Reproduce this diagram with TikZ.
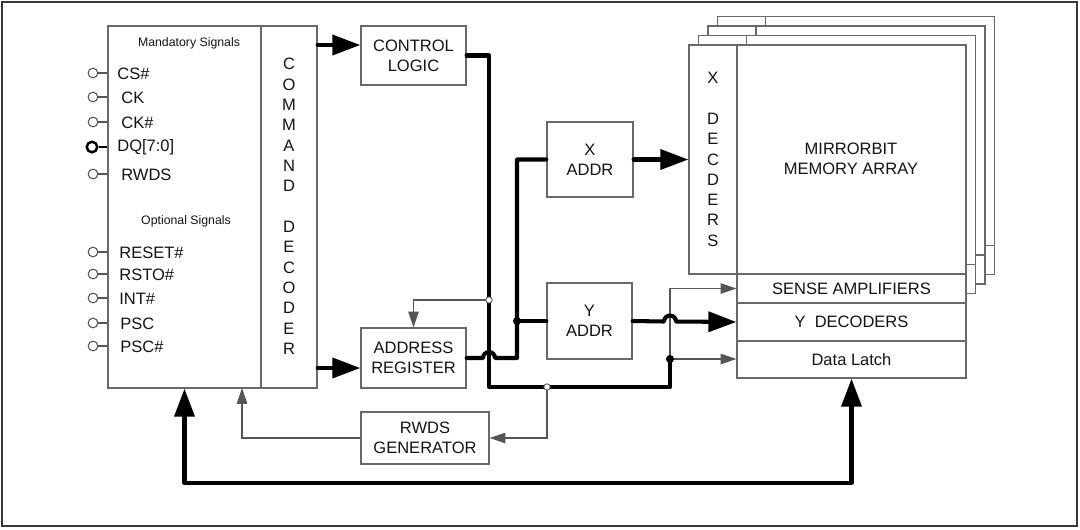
\documentclass[tikz,border=0pt]{standalone}
\usepackage{fontspec}
\setmainfont{Liberation Sans}
\usetikzlibrary{arrows.meta,fit,calc}
\definecolor{boxgray}{RGB}{105,105,105}
\definecolor{linegray}{RGB}{85,85,85}
\definecolor{framegray}{RGB}{55,55,55}
\definecolor{txt}{RGB}{20,20,20}
\begin{document}
\begin{tikzpicture}[x=0.02cm,y=-0.02cm,
  txtfont/.style={font=\fontsize{9.4}{11.5}\selectfont, text=txt},
  box/.style={draw=boxgray, line width=0.75pt, fill=white, inner sep=0pt},
  boxtxt/.style={align=center, inner sep=0pt, txtfont},
  bus/.style={line width=2.3pt, line cap=round, line join=round, draw=black},
  busarrow/.style={bus, -{Triangle[length=15.9pt,width=11.3pt]}},
  sig/.style={draw=linegray, line width=0.6pt},
  sigarrow/.style={sig, -{Triangle[length=9pt,width=6pt]}},
  pinc/.style={circle, draw=linegray, line width=0.6pt, fill=white, inner sep=0pt, minimum size=5.5pt},
  pinlbl/.style={anchor=west, inner sep=0pt, txtfont},
  odot/.style={circle, draw=linegray, line width=0.5pt, fill=white, inner sep=0pt, minimum size=3.6pt},
  fdot/.style={circle, fill=black, inner sep=0pt, minimum size=4.6pt},
]
\useasboundingbox (0,0) rectangle (1080,529);
\draw[framegray, line width=1.2pt] (2,2) rectangle (1077,526);

% ---------- signal block and command decoder
\node[box, fit={(108,26) (261,388)}] (sigbox) {};
\node[box, fit={(261,26) (317,388)}] (cmd) {};
\node[align=center, inner sep=0pt, font=\fontsize{9.4}{11.57}\selectfont, text=txt] (cmdtxt) at (289,206.5)
  {C\\O\\M\\M\\A\\N\\D\\[11.57pt]D\\E\\C\\O\\D\\E\\R};
\node[font=\fontsize{7}{8}\selectfont, text=txt, inner sep=0pt] (mand) at (189,43) {Mandatory Signals};
\node[font=\fontsize{7}{8}\selectfont, text=txt, inner sep=0pt] (opt) at (186,221) {Optional Signals};

% pins
\foreach \nm/\y/\lx/\lbl in {cs/73/117/CS\#, ck/97/121/CK, ckn/122/121/CK\#, rwdsp/174/121/RWDS,
   rst/252/119/RESET\#, rsto/274/119/RSTO\#, int/298/119/INT\#, psc/323/120/PSC, pscn/346/120/PSC\#}{
  \node[pinc] (p\nm) at (93,\y) {};
  \draw[sig] (p\nm.east) -- (p\nm.east -| sigbox.west);
  \node[pinlbl] (l\nm) at (\lx,\y+0.5) {\lbl};
}
\node[circle, draw=black, line width=1.4pt, fill=white, inner sep=0pt, minimum size=6pt] (pdq) at (92,147) {};
\draw[black, line width=1.4pt] (pdq.east) -- (pdq.east -| sigbox.west);
\node[pinlbl] (ldq) at (117,147) {DQ[7:0]};

% ---------- middle boxes
\node[box, fit={(361,26) (466,85)}] (ctrl) {};
\node[boxtxt] (ctrlt) at (ctrl.center) {CONTROL\\LOGIC};
\node[box, fit={(361,328) (466,388)}] (addr) {};
\node[boxtxt] (addrt) at (addr.center) {ADDRESS\\REGISTER};
\node[box, fit={(547,122) (633,197)}] (xaddr) {};
\node[boxtxt] (xaddrt) at (xaddr.center) {X\\ADDR};
\node[box, fit={(547,283) (632,359)}] (yaddr) {};
\node[boxtxt] (yaddrt) at (yaddr.center) {Y\\ADDR};
\node[box, fit={(361,412) (489,464)}] (rwds) {};
\node[boxtxt] (rwdst) at (rwds.center) {RWDS\\GENERATOR};

% ---------- memory array stack (back pages)
\foreach \k in {3,2,1}{
  \begin{scope}[shift={(9.5*\k,-9.5*\k)}]
    \draw[boxgray, line width=0.75pt, fill=white] (689,45) rectangle (966,274);
    \draw[boxgray, line width=0.75pt] (737,45) -- (737,274);
    \draw[boxgray, line width=0.75pt, fill=white] (737,274) rectangle (966,303);
  \end{scope}
}
% front page
\node[box, fit={(689,45) (737,274)}] (xdec) {};
\node[align=center, inner sep=0pt, font=\fontsize{9.4}{11.55}\selectfont, text=txt] (xdectxt) at (713,159.5)
  {X\\[11.55pt]D\\E\\C\\D\\E\\R\\S};
\node[box, fit={(737,45) (966,274)}] (array) {};
\node[boxtxt] (arrayt) at (851,159) {MIRRORBIT\\MEMORY ARRAY};
\node[box, fit={(737,274) (966,303)}] (sense) {};
\node[boxtxt] (senset) at (sense.center) {SENSE AMPLIFIERS};
\node[box, fit={(737,303) (966,341)}] (ydec) {};
\node[boxtxt] (ydect) at (ydec.center) {Y\ \ DECODERS};
\node[box, fit={(737,341) (966,378)}] (latch) {};
\node[boxtxt] (latcht) at (latch.center) {Data Latch};

% ---------- junctions
\coordinate (j1) at (489,300);
\coordinate (j2) at (547,387);
\coordinate (j3) at (670,359);
\coordinate (j4) at (517,321);

% ---------- connectors
\draw[busarrow] (cmd.east |- 0,45) -- (ctrl.west |- 0,45);
\draw[busarrow] (cmd.east |- 0,368) -- (addr.west |- 0,368);

\draw[bus] (ctrl.east) -| (j1) -- (489,387) -- (j2) -- (670,387) -- (j3);
\draw[sigarrow] (j1) -| (addr.north);
\draw[sigarrow] (j3) |- (sense.west);
\draw[sigarrow] (j3) -- (j3 -| latch.west);
\draw[sig] (670,288) -- (j3);
\draw[sigarrow] (j2) |- (rwds.east);
\coordinate (rwin) at (242,388);
\draw[sigarrow] (rwds.west) -| (rwin);

\draw[bus] (addr.east) -- (483,358) arc[start angle=180, end angle=360, radius=6] -- (517,358) -- (j4) |- (xaddr.west);
\draw[bus] (j4) -- (yaddr.west);
\draw[busarrow] (xaddr.east) -- (xaddr.east -| xdec.west);
\draw[busarrow] (yaddr.east) -- (664,321.5) arc[start angle=180, end angle=360, radius=6] -- (ydec.west);

\draw[bus, {Triangle[length=15.9pt,width=11.3pt]}-{Triangle[length=15.9pt,width=11.3pt]}]
  (sigbox.south) -- (184.5,483) -| (latch.south);

% junction marks
\node[odot] (d1) at (j1) {};
\node[odot] (d2) at (j2) {};
\node[fdot] (d3) at (j3) {};
\node[fdot] (d4) at (j4) {};
\end{tikzpicture}
\end{document}
